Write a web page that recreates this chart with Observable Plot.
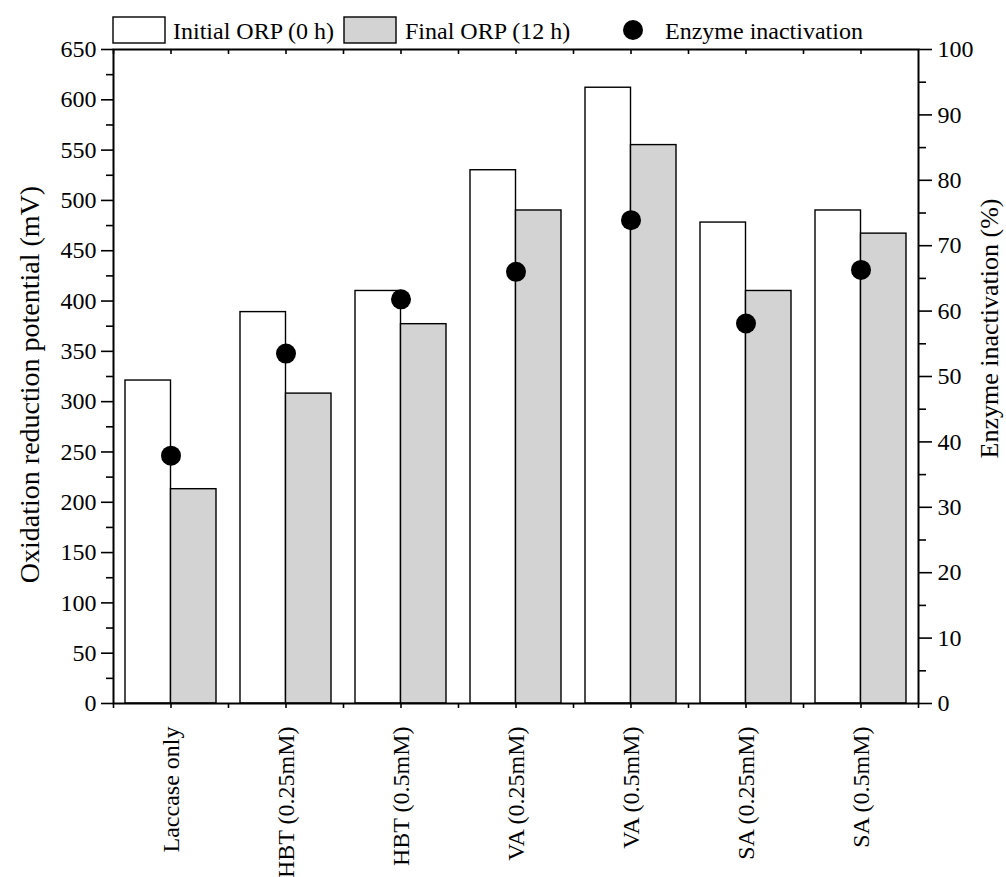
<!DOCTYPE html>
<html><head><meta charset="utf-8">
<script src="https://cdn.jsdelivr.net/npm/d3@7"></script>
<script src="https://cdn.jsdelivr.net/npm/@observablehq/plot@0.6"></script>
<style>
body{margin:0;background:#fff;}
#wrap{position:relative;width:1006px;height:877px;font-family:"Liberation Serif","Times New Roman",serif;}
#chart{position:absolute;left:0;top:0;}
#legend{position:absolute;left:0;top:0;}
</style></head><body>
<div id="wrap"><div id="chart"></div><svg id="legend" width="1006" height="48"></svg></div>
<script>
const categories = ["Laccase only","HBT (0.25mM)","HBT (0.5mM)","VA (0.25mM)","VA (0.5mM)","SA (0.25mM)","SA (0.5mM)"];
const initialORP = [321,389,410,530,612,478,490];
const finalORP = [213,308,377,490,555,410,467];
const enzymeInactivation = [37.9,53.5,61.8,66.0,73.9,58.1,66.3];
const leftTicks = d3.range(0,651,50);
const leftMinor = d3.range(25,651,50);
const rightTicks = d3.range(0,101,10);
const rightMinor = d3.range(5,101,10);
const legendLabels = ["Initial ORP (0 h)","Final ORP (12 h)","Enzyme inactivation"];
const leftTitle = "Oxidation reduction potential (mV)";
const rightTitle = "Enzyme inactivation (%)";

const k = 650/100; // right axis (0–100 %) mapped onto left axis (0–650 mV)
const rows = categories.map((c,i)=>({c, init: initialORP[i], fin: finalORP[i], enz: enzymeInactivation[i]}));
const font = '"Liberation Serif","Times New Roman",serif';

const chart = Plot.plot({
  width:1006, height:877, marginLeft:113, marginRight:88, marginTop:49, marginBottom:174,
  style:{fontFamily:font, fontSize:"24px", color:"#000", background:"transparent"},
  x:{type:"band", domain:categories, padding:0},
  y:{domain:[0,650]},
  marks:[
    Plot.barY(rows, {x:"c", y:"init", fill:"#fff", stroke:"#000", strokeWidth:1.4, insetLeft:12, insetRight:57.5}),
    Plot.barY(rows, {x:"c", y:"fin", fill:"#d3d3d3", stroke:"#000", strokeWidth:1.4, insetLeft:57.5, insetRight:12}),
    Plot.dot(rows, {x:"c", y:d=>d.enz*k, r:10, fill:"#000", stroke:null}),
    Plot.axisY(leftTicks, {anchor:"left", tickSize:12, tickPadding:5, strokeWidth:1.6, label:null, fontSize:24}),
    Plot.axisY(leftMinor, {anchor:"left", tickSize:7, strokeWidth:1.6, tickFormat:()=>"", label:null}),
    Plot.axisY(rightTicks.map(v=>v*k), {anchor:"right", tickSize:13, tickPadding:6, strokeWidth:1.6, tickFormat:v=>String(Math.round(v/k)), label:null, fontSize:24}),
    Plot.axisY(rightMinor.map(v=>v*k), {anchor:"right", tickSize:7, strokeWidth:1.6, tickFormat:()=>"", label:null}),
    Plot.axisX(categories, {anchor:"bottom", tickSize:5, strokeWidth:1.6, tickRotate:-90, tickPadding:18, label:null, fontSize:24}),
    Plot.axisX(categories, {anchor:"bottom", tickSize:5, strokeWidth:1.6, tickFormat:()=>"", label:null, dx:-57.5}),
    Plot.axisX(categories.slice(-1), {anchor:"bottom", tickSize:5, strokeWidth:1.6, tickFormat:()=>"", label:null, dx:57.5}),
    Plot.tickX(categories, {x:d=>d, stroke:"#000", strokeWidth:1.6, insetBottom:649}),
    Plot.tickX(categories, {x:d=>d, stroke:"#000", strokeWidth:1.6, insetBottom:649, dx:-57.5}),
    Plot.frame({stroke:"#000", strokeWidth:2}),
    Plot.text([leftTitle], {text:d=>d, frameAnchor:"left", textAnchor:"middle", rotate:-90, dx:-83, dy:8, fontSize:28, fill:"#000"}),
    Plot.text([rightTitle], {text:d=>d, frameAnchor:"right", textAnchor:"middle", rotate:-90, dx:71, dy:-48, fontSize:26, fill:"#000"})
  ]
});
document.getElementById("chart").appendChild(chart);

// legend
const lg = d3.select("#legend").style("font-family", font).style("font-size","24px");
lg.append("rect").attr("x",113).attr("y",17).attr("width",52).attr("height",26).attr("fill","#fff").attr("stroke","#000").attr("stroke-width",1.4);
lg.append("text").attr("x",173).attr("y",39).text(legendLabels[0]);
lg.append("rect").attr("x",344).attr("y",17).attr("width",52).attr("height",26).attr("fill","#d3d3d3").attr("stroke","#000").attr("stroke-width",1.4);
lg.append("text").attr("x",405).attr("y",39).text(legendLabels[1]);
lg.append("circle").attr("cx",633).attr("cy",30).attr("r",10).attr("fill","#000");
lg.append("text").attr("x",665).attr("y",39).text(legendLabels[2]);
</script>
</body></html>
